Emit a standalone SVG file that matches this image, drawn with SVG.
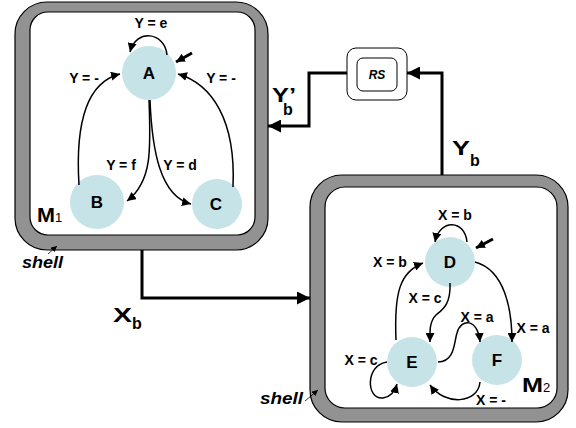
<svg xmlns="http://www.w3.org/2000/svg" width="576" height="428" viewBox="0 0 576 428">
<style>
.shellO{fill:#929292;stroke:#000;stroke-width:1.2}
.shellI{fill:#fff;stroke:#000;stroke-width:1.2}
.node{fill:#c6e3e8;stroke:none}
.nl{font-family:"Liberation Sans",Arial,sans-serif;font-weight:bold;font-size:17px;text-anchor:middle}
.el{font-family:"Liberation Sans",Arial,sans-serif;font-weight:bold;font-size:14px;text-anchor:middle}
.edge{fill:none;stroke:#000;stroke-width:1.5;marker-end:url(#ah)}
.conn{fill:none;stroke:#000;stroke-width:3;marker-end:url(#big)}
.big{font-family:"Liberation Sans",Arial,sans-serif;font-weight:bold;font-size:21px}
.sub{font-family:"Liberation Sans",Arial,sans-serif;font-weight:bold;font-size:16px}
.msub{font-family:"Liberation Sans",Arial,sans-serif;font-size:13px}
.sh{font-family:"Liberation Sans",Arial,sans-serif;font-weight:bold;font-style:italic;font-size:16px}
</style>
<defs>
<marker id="ah" viewBox="0 0 10 10" refX="10" refY="5" markerWidth="9" markerHeight="9" markerUnits="userSpaceOnUse" orient="auto"><path d="M0,0 L10,5 L0,10 Z" fill="#000"/></marker>
<marker id="big" viewBox="0 0 10 10" refX="10" refY="5" markerWidth="13" markerHeight="13" markerUnits="userSpaceOnUse" orient="auto"><path d="M0,0 L10,5 L0,10 Z" fill="#000"/></marker>
<marker id="sm" viewBox="0 0 10 10" refX="10" refY="5" markerWidth="6" markerHeight="6" markerUnits="userSpaceOnUse" orient="auto"><path d="M0,0 L10,5 L0,10 Z" fill="#000"/></marker>
</defs>

<g id="M1">
<rect class="shellO" x="15" y="2" width="253" height="248" rx="32"/>
<rect class="shellI" x="30" y="12" width="225" height="223" rx="18"/>
<text class="big" x="37" y="222" textLength="18" lengthAdjust="spacingAndGlyphs">M</text><text class="msub" x="55" y="222">1</text>
</g>
<g id="M2">
<rect class="shellO" x="310" y="175" width="258" height="247" rx="32"/>
<rect class="shellI" x="325" y="187" width="232" height="221" rx="20"/>
<text class="big" x="522" y="392" textLength="21" lengthAdjust="spacingAndGlyphs">M</text><text class="msub" x="543" y="392">2</text>
</g>
<g id="shell1"><text class="sh" x="22" y="268" textLength="41" lengthAdjust="spacingAndGlyphs">shell</text><line x1="48" y1="254" x2="57" y2="246" stroke="#000" stroke-width="0.8" marker-end="url(#sm)"/></g>
<g id="shell2"><text class="sh" x="260" y="404" textLength="43" lengthAdjust="spacingAndGlyphs">shell</text><line x1="305" y1="401" x2="318" y2="390" stroke="#000" stroke-width="0.8" marker-end="url(#sm)"/></g>

<g id="RS">
<rect x="347" y="48" width="60" height="52" rx="9" fill="#fff" stroke="#000" stroke-width="1"/>
<rect x="357" y="58" width="40" height="33" rx="6" fill="#fff" stroke="#000" stroke-width="1"/>
<text x="377" y="79" font-family="Liberation Sans, Arial, sans-serif" font-weight="bold" font-style="italic" font-size="12" text-anchor="middle">RS</text>
</g>

<g id="A"><circle class="node" cx="149" cy="73" r="27"/><text class="nl" x="149" y="79">A</text></g>
<g id="B"><circle class="node" cx="97" cy="202" r="27"/><text class="nl" x="97" y="208">B</text></g>
<g id="C"><circle class="node" cx="217" cy="204" r="25"/><text class="nl" x="216" y="210">C</text></g>
<g id="D"><circle class="node" cx="450" cy="262" r="25"/><text class="nl" x="450" y="268">D</text></g>
<g id="E"><circle class="node" cx="412" cy="362" r="25"/><text class="nl" x="412" y="368">E</text></g>
<g id="F"><circle class="node" cx="497" cy="360" r="25"/><text class="nl" x="497" y="366">F</text></g>

<g id="connectors">
<path class="edge" d="M167 55 C165 32,136 28,130 52"/>
<line x1="192" y1="53" x2="176" y2="62" stroke="#000" stroke-width="3" marker-end="url(#ah)"/>
<path class="edge" d="M79 185 C75 120,88 82,120 74"/>
<path class="edge" d="M233 187 C236 120,212 84,178 74"/>
<path class="edge" d="M149 100 C151 150,152 182,127 201"/>
<path class="edge" d="M150 100 C152 150,160 196,191 204"/>

<path class="edge" d="M467 242 C465 220,440 218,435 242"/>
<line x1="493" y1="239" x2="476" y2="248" stroke="#000" stroke-width="3" marker-end="url(#ah)"/>
<path class="edge" d="M396 340 C394 292,400 272,423 263"/>
<path class="edge" d="M450 283 C451 305,442 310,436 315 C429 322,430 332,430 342"/>
<path class="edge" d="M475 262 C505 270,512 310,512 342"/>
<path class="edge" d="M438 362 C455 362,454 342,457 333 C461 318,478 318,480 342"/>
<path class="edge" d="M480 382 C478 404,445 406,430 385"/>
<path class="edge" d="M387 362 C365 365,366 400,383 398 C391 397,395 391,397 384"/>

<path class="conn" d="M442 175 V73 H407"/>
<path class="conn" d="M347 73 H309 V126 H268"/>
<path class="conn" d="M142 250 V298 H310"/>
</g>

<g id="labels">
<text class="el" x="151" y="28">Y = e</text>
<text class="el" x="84" y="83">Y = -</text>
<text class="el" x="221" y="83">Y = -</text>
<text class="el" x="121" y="170">Y = f</text>
<text class="el" x="180" y="170">Y = d</text>
<text class="el" x="455" y="220">X = b</text>
<text class="el" x="390" y="267">X = b</text>
<text class="el" x="425" y="303">X = c</text>
<text class="el" x="477" y="322">X = a</text>
<text class="el" x="533" y="333">X = a</text>
<text class="el" x="361" y="365">X = c</text>
<text class="el" x="491" y="405">X = -</text>
<text class="big" x="272" y="102" textLength="24" lengthAdjust="spacingAndGlyphs">Y’</text><text class="sub" x="283" y="115">b</text>
<text class="big" x="452" y="155" textLength="18" lengthAdjust="spacingAndGlyphs">Y</text><text class="sub" x="470" y="166">b</text>
<text class="big" x="113" y="322" textLength="19" lengthAdjust="spacingAndGlyphs">X</text><text class="sub" x="132" y="329">b</text>
</g>
</svg>
